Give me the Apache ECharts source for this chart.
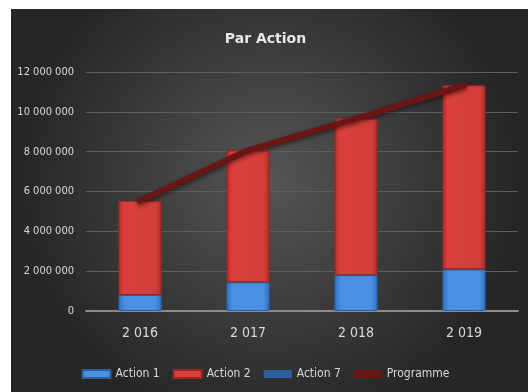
<!DOCTYPE html>
<html><head><meta charset="utf-8">
<script src="https://cdn.jsdelivr.net/npm/echarts@6/dist/echarts.min.js"></script>
<style>html,body{margin:0;padding:0;background:#fff}#c{width:531px;height:392px}</style>
</head><body><div id="c"></div>
<script>
const categories = ['2 016', '2 017', '2 018', '2 019'];
const action1 = [800000, 1440000, 1800000, 2090000];
const action2 = [4730000, 6630000, 7860000, 9240000];
const action7 = [0, 0, 0, 0];
const programme = [5530000, 8070000, 9660000, 11330000];
const yTicks = [0, 2000000, 4000000, 6000000, 8000000, 10000000, 12000000];

const fmt = v => String(v).replace(/\B(?=(\d{3})+(?!\d))/g, ' ');
const font = '"DejaVu Sans Condensed", "Liberation Sans Narrow", sans-serif';

const chart = echarts.init(document.getElementById('c'), null, {renderer: 'canvas'});
const blueGrad = new echarts.graphic.LinearGradient(0, 0, 1, 0, [
  {offset: 0, color: '#2f6fbf'}, {offset: 0.15, color: '#4a90e2'},
  {offset: 0.85, color: '#4a90e2'}, {offset: 1, color: '#2f6fbf'}]);
const redGrad = new echarts.graphic.LinearGradient(0, 0, 1, 0, [
  {offset: 0, color: '#a92a28'}, {offset: 0.12, color: '#d9403c'},
  {offset: 0.88, color: '#d33d39'}, {offset: 1, color: '#a92a28'}]);
const navyGrad = new echarts.graphic.LinearGradient(0, 0, 1, 0, [
  {offset: 0, color: '#1c3d6e'}, {offset: 0.5, color: '#2f5fa0'}, {offset: 1, color: '#1c3d6e'}]);

chart.setOption({
  animation: false,
  graphic: [{
    type: 'rect', left: 11, top: 9, silent: true, z: -10,
    shape: {width: 517, height: 383},
    style: {fill: new echarts.graphic.RadialGradient(0.5, 0.45, 0.65, [
      {offset: 0, color: '#555555'}, {offset: 1, color: '#262626'}])}
  }],
  title: {
    text: 'Par Action', left: 'center', top: 27,
    textStyle: {color: '#e8e8e8', fontSize: 14, fontWeight: 'bold', fontFamily: '"DejaVu Sans", sans-serif'}
  },
  grid: {left: 86, right: 13, top: 72, bottom: 81},
  legend: {
    bottom: 7, left: 'center', itemWidth: 28, itemHeight: 8, itemGap: 13,
    textStyle: {color: '#d9d9d9', fontSize: 12, fontFamily: font},
    data: [
      {name: 'Action 1', icon: 'rect', itemStyle: {color: '#4a90e2'}},
      {name: 'Action 2', icon: 'rect', itemStyle: {color: '#d9403c'}},
      {name: 'Action 7', icon: 'rect', itemStyle: {color: '#2f5fa0'}},
      {name: 'Programme', icon: 'rect', itemStyle: {color: '#6b1515'}}
    ]
  },
  xAxis: {
    type: 'category', data: categories,
    axisLine: {lineStyle: {color: '#8c8c8c', width: 2}},
    axisTick: {show: false},
    axisLabel: {color: '#d9d9d9', fontSize: 14, margin: 15, fontFamily: font}
  },
  yAxis: {
    type: 'value', min: 0, max: 12000000, interval: 2000000,
    axisLine: {show: false}, axisTick: {show: false},
    splitLine: {lineStyle: {color: '#5e5e5e', width: 1}},
    axisLabel: {color: '#d9d9d9', fontSize: 11, margin: 12, fontFamily: font,
      formatter: v => fmt(v)}
  },
  series: [
    {name: 'Action 1', type: 'bar', stack: 't', data: action1, barWidth: '40%',
      itemStyle: {color: blueGrad, borderColor: '#2a5ea0', borderWidth: 1}},
    {name: 'Action 2', type: 'bar', stack: 't', data: action2,
      itemStyle: {color: redGrad, borderColor: '#9a2522', borderWidth: 1}},
    {name: 'Action 7', type: 'bar', stack: 't', data: action7,
      itemStyle: {color: navyGrad}},
    {name: 'Programme', type: 'line', data: programme, symbol: 'none',
      lineStyle: {color: '#6b1515', width: 6, cap: 'round', shadowColor: 'rgba(0,0,0,0.5)', shadowBlur: 4, shadowOffsetY: 2},
      itemStyle: {color: '#6b1515'}, z: 5}
  ]
});
</script></body></html>
